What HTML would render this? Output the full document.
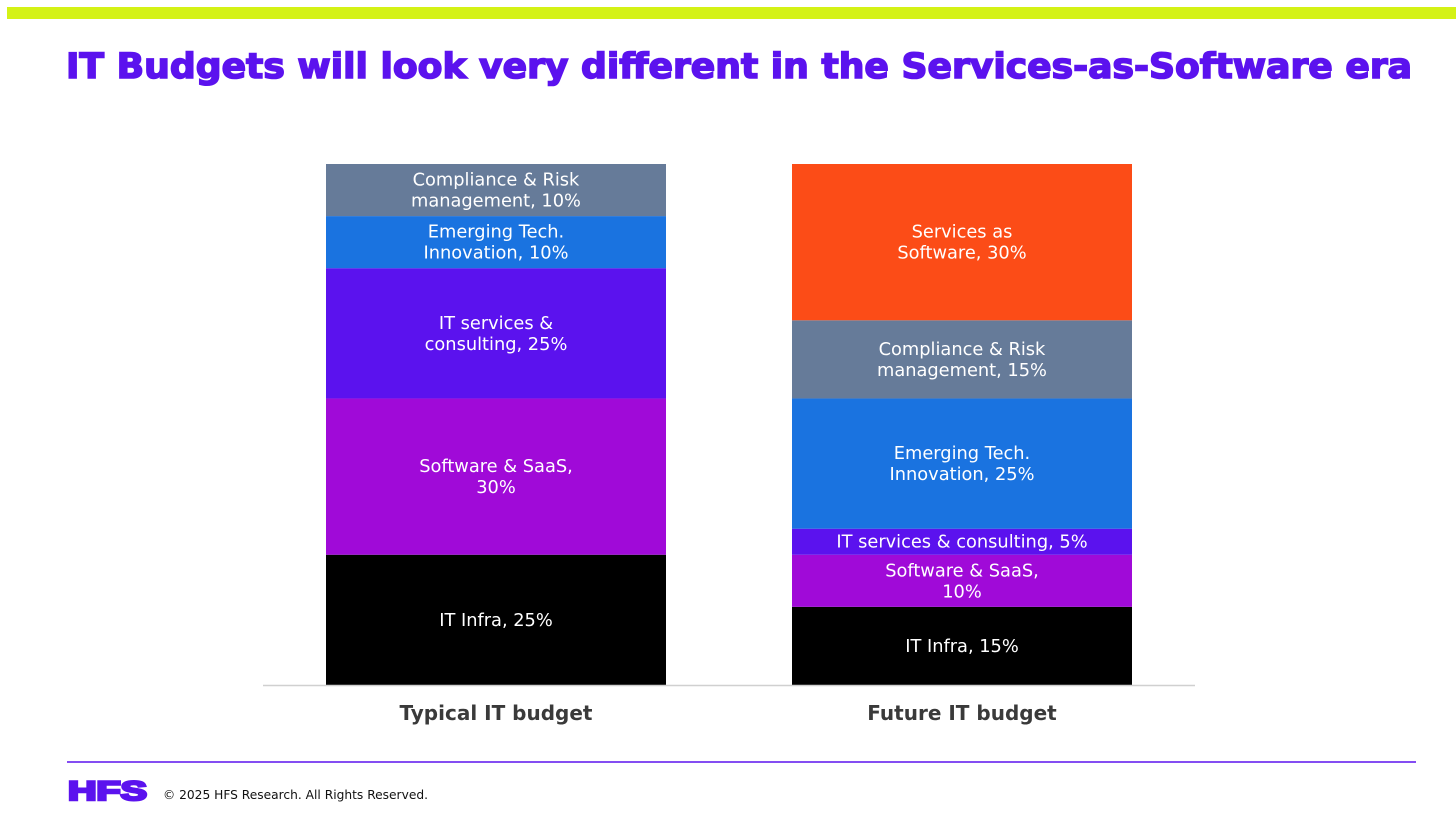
<!DOCTYPE html>
<html><head><meta charset="utf-8"><style>
html,body{margin:0;padding:0;background:#fff;}
svg{display:block;font-family:"DejaVu Sans","Liberation Sans",sans-serif;}
</style></head><body>
<svg id="chart" width="1456" height="821" viewBox="0 0 1456 821">
<rect x="7" y="7" width="1449" height="12" fill="#d4f216"/>
<text x="739" y="78" text-anchor="middle" font-size="35" font-weight="bold" fill="#5b12ee" stroke="#5b12ee" stroke-width="1.6" textLength="1346" lengthAdjust="spacingAndGlyphs">IT Budgets will look very different in the Services-as-Software era</text>
<g id="bars"></g>
<line x1="263" y1="685.5" x2="1195" y2="685.5" stroke="#d0d0d0" stroke-width="1.5"/>
<line x1="67" y1="762" x2="1416" y2="762" stroke="#5b12ee" stroke-width="1.5"/>
<text x="68" y="800" font-size="27" font-weight="bold" fill="#5b12ee" stroke="#5b12ee" stroke-width="2.5" textLength="79" lengthAdjust="spacingAndGlyphs" style="font-family:'Liberation Sans',sans-serif">HFS</text>
<text x="163" y="799" font-size="12.5" fill="#111" textLength="265" lengthAdjust="spacingAndGlyphs">© 2025 HFS Research. All Rights Reserved.</text>
</svg>
<script>
const categories = ["Typical IT budget", "Future IT budget"];
const segmentNames = ["IT Infra", "Software & SaaS", "IT services & consulting", "Emerging Tech. Innovation", "Compliance & Risk management", "Services as Software"];
const typicalValues = [25, 30, 25, 10, 10, 0];
const futureValues = [15, 10, 5, 25, 15, 30];
const seriesValues = [typicalValues, futureValues];
const labelLines = [
  [["IT Infra, 25%"], ["Software & SaaS,", "30%"], ["IT services &", "consulting, 25%"], ["Emerging Tech.", "Innovation, 10%"], ["Compliance & Risk", "management, 10%"], []],
  [["IT Infra, 15%"], ["Software & SaaS,", "10%"], ["IT services & consulting, 5%"], ["Emerging Tech.", "Innovation, 25%"], ["Compliance & Risk", "management, 15%"], ["Services as", "Software, 30%"]]
];
const colors = ["#000000", "#a00ad8", "#5b12ee", "#1a73e0", "#667b99", "#fc4c17"];

const NS = "http://www.w3.org/2000/svg";
const g = document.getElementById("bars");
const y0 = 685, yTop = 164;
const yScale = v => y0 - v / 100 * (y0 - yTop);
const barLeft = [326, 792], barW = 340;
const xScale = i => barLeft[i];

seriesValues.forEach((vals, ci) => {
  let cum = 0;
  vals.forEach((v, si) => {
    if (v <= 0) return;
    const ya = yScale(cum), yb = yScale(cum + v);
    const r = document.createElementNS(NS, "rect");
    r.setAttribute("x", xScale(ci)); r.setAttribute("y", yb);
    r.setAttribute("width", barW); r.setAttribute("height", ya - yb);
    r.setAttribute("fill", colors[si]);
    
    
    g.appendChild(r);
    const lines = labelLines[ci][si];
    const cy = (ya + yb) / 2;
    const lh = 21;
    lines.forEach((ln, li) => {
      const t = document.createElementNS(NS, "text");
      t.setAttribute("x", xScale(ci) + barW / 2);
      t.setAttribute("y", cy + (li - (lines.length - 1) / 2) * lh + 6);
      t.setAttribute("text-anchor", "middle");
      t.setAttribute("font-size", "17.8");
      t.setAttribute("fill", "#fff");
      t.textContent = ln;
      
      
      g.appendChild(t);
    });
    cum += v;
  });
  const c = document.createElementNS(NS, "text");
  c.setAttribute("x", xScale(ci) + barW / 2);
  c.setAttribute("y", 720);
  c.setAttribute("text-anchor", "middle");
  c.setAttribute("font-size", "20");
  c.setAttribute("font-weight", "bold");
  c.setAttribute("fill", "#3a3a3a");
  c.textContent = categories[ci];
  
  
  g.appendChild(c);
});
</script>
</body></html>
